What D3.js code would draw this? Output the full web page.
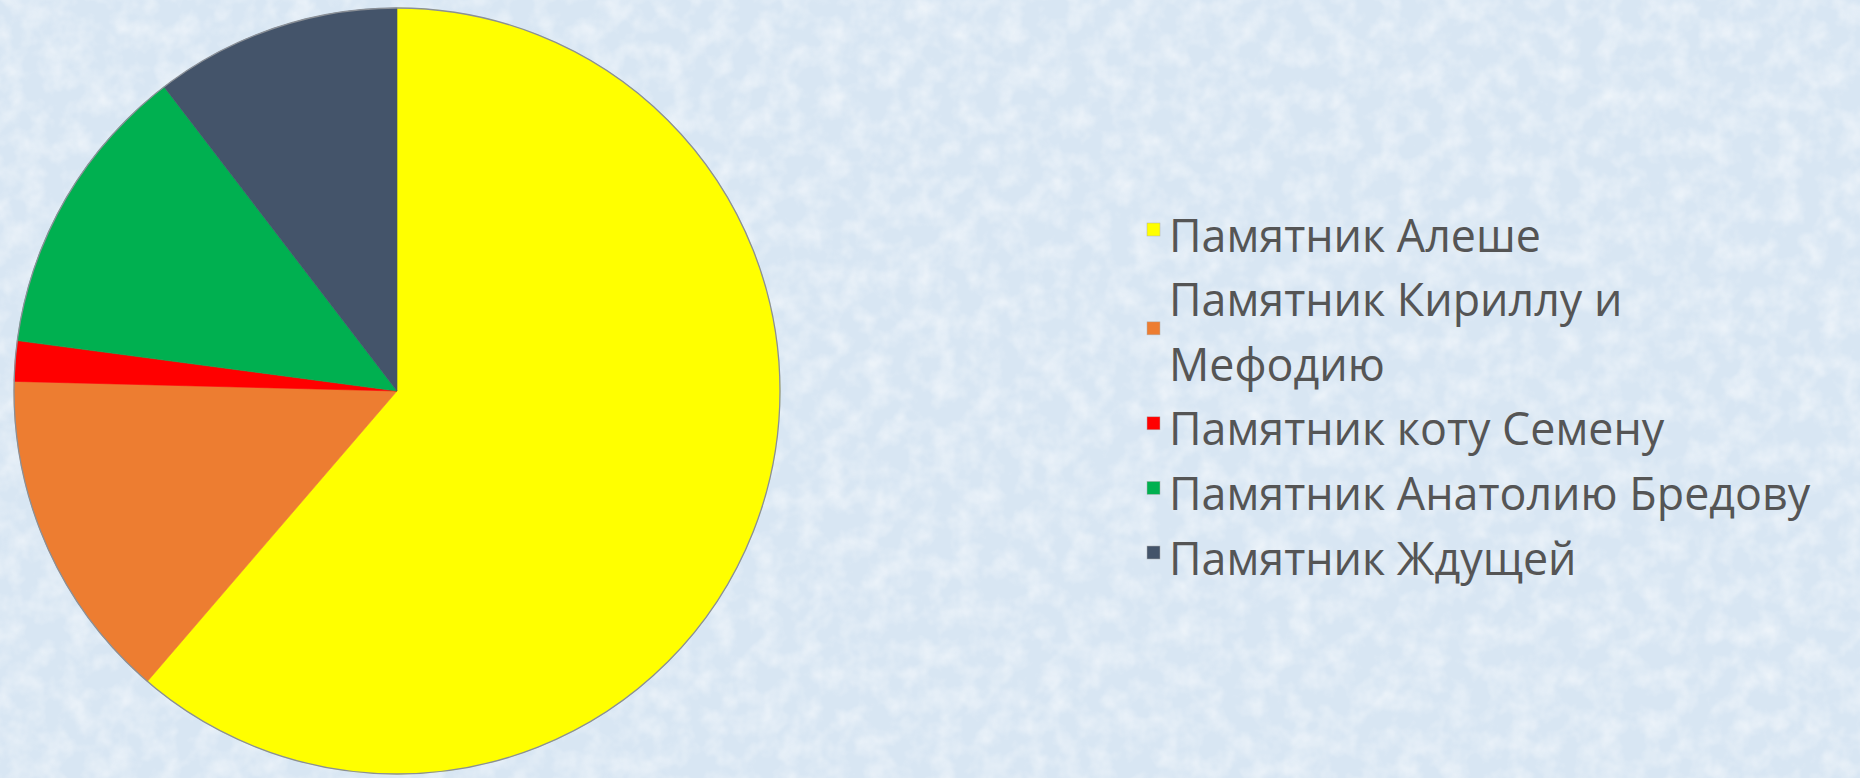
<!DOCTYPE html>
<html>
<head>
<meta charset="utf-8">
<script src="https://cdn.jsdelivr.net/npm/d3@7/dist/d3.min.js"></script>
<style>
  html, body { margin: 0; padding: 0; background: #dbe8f5; overflow: hidden; }
  svg { display: block; }
</style>
</head>
<body>
<svg id="chart" width="1860" height="778"></svg>
<script>
// ---- data ----
const categories = [
  "Памятник Алеше",
  "Памятник Кириллу и Мефодию",
  "Памятник коту Семену",
  "Памятник Анатолию Бредову",
  "Памятник Ждущей"
];
const values = [61.3, 14.1, 1.7, 12.5, 10.4];
const colors = ["#FFFF00", "#ED7D31", "#FF0000", "#00B050", "#44546A"];

// ---- layout ----
const W = 1860, H = 778;
const cx = 397, cy = 391, R = 383;
const svg = d3.select("#chart");

// background texture
const defs = svg.append("defs");
const flt = defs.append("filter").attr("id", "frost").attr("x", 0).attr("y", 0).attr("width", "100%").attr("height", "100%");
flt.append("feTurbulence").attr("type", "fractalNoise").attr("baseFrequency", 0.045).attr("numOctaves", 3).attr("seed", 7).attr("result", "n");
flt.append("feColorMatrix").attr("in", "n").attr("type", "matrix")
  .attr("values", "0 0 0 0 1  0 0 0 0 1  0 0 0 0 1  0 0 0 1.2 -0.45");
svg.append("rect").attr("width", W).attr("height", H).attr("fill", "#d8e6f3");
svg.append("rect").attr("width", W).attr("height", H).attr("filter", "url(#frost)").attr("opacity", 0.8);

// ---- pie ----
const pie = d3.pie().sort(null).value(d => d.v);
const arc = d3.arc().innerRadius(0).outerRadius(R);
const data = categories.map((c, i) => ({ c, v: values[i], col: colors[i] }));
const g = svg.append("g").attr("transform", `translate(${cx},${cy})`);
g.selectAll("path.slice").data(pie(data)).join("path")
  .attr("class", "slice")
  .attr("d", arc)
  .attr("fill", d => d.data.col)
  .attr("stroke", d => d.data.col)
  .attr("stroke-width", 0.6);
g.append("circle").attr("r", R).attr("fill", "none").attr("stroke", "#8a8f96").attr("stroke-width", 1.3);

// ---- legend ----
const fontSize = 44.8;
const legendX = 1169, firstBaseline = 251.5, lineH = 64.6, maxW = 670;
const lg = svg.append("g").attr("font-family", "'Open Sans', 'Noto Sans', sans-serif")
  .attr("font-size", fontSize).attr("font-weight", 500).attr("fill", "#555555");

// measure helper
const meas = lg.append("text").attr("visibility", "hidden");
function width(s) { meas.text(s); return meas.node().getComputedTextLength(); }
function wrap(s) {
  if (width(s) <= maxW) return [s];
  const words = s.split(" ");
  const lines = []; let cur = "";
  words.forEach(w => {
    const t = cur ? cur + " " + w : w;
    if (width(t) > maxW && cur) { lines.push(cur); cur = w; } else cur = t;
  });
  if (cur) lines.push(cur);
  return lines;
}
const wrapped = categories.map(wrap);
meas.remove();

let lineIdx = 0;
const capH = 29.5;
const sz = 13;
wrapped.forEach((lines, i) => {
  const start = lineIdx;
  lines.forEach(l => {
    lg.append("text").attr("x", legendX).attr("y", firstBaseline + lineIdx * lineH).text(l);
    lineIdx++;
  });
  const firstB = firstBaseline + start * lineH;
  const lastB = firstBaseline + (lineIdx - 1) * lineH;
  const my = lines.length > 1 ? (firstB + lastB) / 2 - capH * 0.9 : firstB - capH + 1;
  lg.append("rect").attr("x", legendX - 22).attr("y", my)
    .attr("width", sz).attr("height", sz).attr("fill", colors[i]).attr("stroke", "#b0b0b0").attr("stroke-width", 0.5);
});
</script>
</body>
</html>
